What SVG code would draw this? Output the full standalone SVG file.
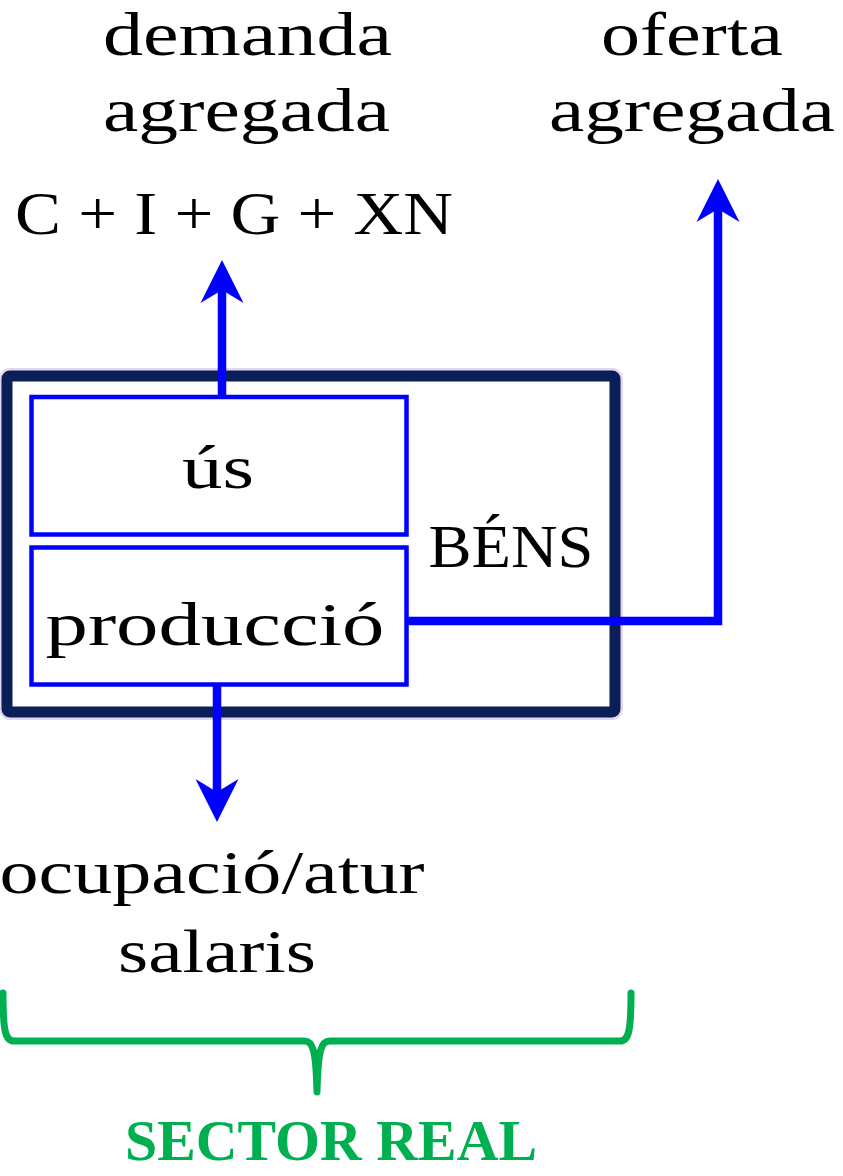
<svg xmlns="http://www.w3.org/2000/svg" width="843" height="1176" viewBox="0 0 843 1176">
<style>
.t{font-family:"Liberation Serif","Times New Roman",serif;font-size:62px;fill:#000;text-anchor:middle}
.inner{fill:none;stroke:#0000ff;stroke-width:4.5}
.conn{fill:none;stroke:#0000ff;stroke-width:8.5;stroke-linejoin:miter}
.brace{fill:none;stroke:#00b050;stroke-width:7;stroke-linecap:round;stroke-linejoin:round}
.sector{font-family:"Liberation Serif","Times New Roman",serif;font-size:58px;font-weight:bold;fill:#00b050;text-anchor:middle}
</style>
<defs>
<marker id="ah" markerUnits="userSpaceOnUse" viewBox="-15 -23 50 46" markerWidth="50" markerHeight="46" refX="0" refY="0" orient="auto">
<path d="M30,0 L-13,-21.5 L0,0 L-13,21.5 Z" fill="#0000ff"/>
</marker>
</defs>
<rect width="843" height="1176" fill="#fff"/>
<g id="labels-top">
<text class="t" x="247.5" y="55" textLength="289" lengthAdjust="spacingAndGlyphs">demanda</text>
<text class="t" x="246.5" y="131" textLength="287" lengthAdjust="spacingAndGlyphs">agregada</text>
<text class="t" x="692" y="55" textLength="182" lengthAdjust="spacingAndGlyphs">oferta</text>
<text class="t" x="692" y="131" textLength="286" lengthAdjust="spacingAndGlyphs">agregada</text>
<text class="t" x="234" y="234" textLength="438" lengthAdjust="spacingAndGlyphs">C + I + G + XN</text>
</g>
<g id="bens">
<rect x="7" y="376" width="608" height="336" rx="3" fill="#fff" stroke="#e2d6f0" stroke-width="16"/>
<rect x="7" y="376" width="608" height="336" rx="3" fill="#fff" stroke="#0a1e57" stroke-width="11"/>
<text class="t" x="511" y="567" textLength="165" lengthAdjust="spacingAndGlyphs">BÉNS</text>
</g>
<g id="us">
<rect class="inner" x="31.5" y="397" width="375" height="137.5"/>
<text class="t" x="218" y="488" textLength="72" lengthAdjust="spacingAndGlyphs">ús</text>
</g>
<g id="produccio">
<rect class="inner" x="31.5" y="547.5" width="375" height="137"/>
<text class="t" x="215" y="645" textLength="339" lengthAdjust="spacingAndGlyphs">producció</text>
</g>
<g id="connectors">
<path class="conn" d="M222,395 L222,290" marker-end="url(#ah)"/>
<path class="conn" d="M408,621 L718,621 L718,209" marker-end="url(#ah)"/>
<path class="conn" d="M217,686 L217,792" marker-end="url(#ah)"/>
</g>
<g id="labels-bottom">
<text class="t" x="212" y="893" textLength="425" lengthAdjust="spacingAndGlyphs">ocupació/atur</text>
<text class="t" x="217" y="972" textLength="198" lengthAdjust="spacingAndGlyphs">salaris</text>
</g>
<g id="sector-real">
<path class="brace" d="M3,993 C3,1030 5,1041 14,1041 L304,1041 C313,1041 316,1050 317,1092 C318,1050 321,1041 330,1041 L620,1041 C629,1041 631,1030 631,993"/>
<text class="sector" x="331" y="1160" textLength="412" lengthAdjust="spacingAndGlyphs">SECTOR REAL</text>
</g>
</svg>
